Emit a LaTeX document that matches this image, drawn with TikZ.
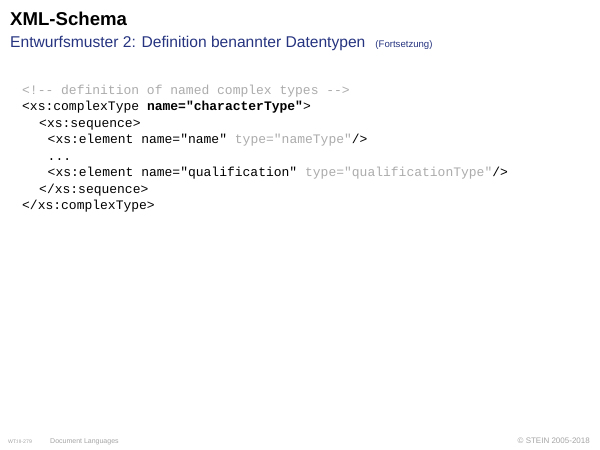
\documentclass[tikz,border=0pt]{standalone}
\usepackage{fontspec}
\setmainfont{Liberation Sans}
\setmonofont{Liberation Mono}
\definecolor{slideblue}{RGB}{38,52,128}
\definecolor{codegray}{RGB}{172,172,172}
\definecolor{footgray}{RGB}{165,165,165}
\begin{document}
\begin{tikzpicture}[
x=1pt,y=-1pt,
every node/.append style={inner sep=0pt,anchor=base west},
title/.style={font={\fontsize{18.6}{20}\selectfont\bfseries}},
subtitle/.style={font={\fontsize{15.6}{18}\selectfont},text=slideblue},
code/.style={font={\fontsize{13}{15}\selectfont\ttfamily}},
comment/.style={code,text=codegray},
footer/.style={font={\fontsize{7}{8}\selectfont},text=footgray},
]
\useasboundingbox[fill=white] (0,0) rectangle (600,450);

% header
\node[title] (head) at (10,25) {XML-Schema};
\node[subtitle] (sub) at (10,47) {Entwurfsmuster 2: Definition benannter Datentypen\hspace{10pt}{\fontsize{9.6}{11}\selectfont(Fortsetzung)}};

% code listing
\node[comment] (c1) at (22,94) {<!-- definition of named complex types -->};
\node[code] (c2) at (22,110.5) {<xs:complexType \textbf{name="characterType"}>};
\node[code] (c3) at (39,127) {<xs:sequence>};
\node[code] (c4) at (47.5,143.5) {<xs:element name="name" \textcolor{codegray}{type="nameType"}/>};
\node[code] (c5) at (47.5,160) {...};
\node[code] (c6) at (47.5,176.5) {<xs:element name="qualification" \textcolor{codegray}{type="qualificationType"}/>};
\node[code] (c7) at (39,193) {</xs:sequence>};
\node[code] (c8) at (22,209.5) {</xs:complexType>};

% footer
\node[footer,font={\fontsize{5.2}{6}\selectfont}] (page) at (8,443) {WT:III-279};
\node[footer] (lect) at (50,443) {Document Languages};
\node[footer,anchor=base east,font={\fontsize{8}{9}\selectfont}] (copy) at (590,443) {\textcopyright\ STEIN 2005-2018};
\end{tikzpicture}
\end{document}
